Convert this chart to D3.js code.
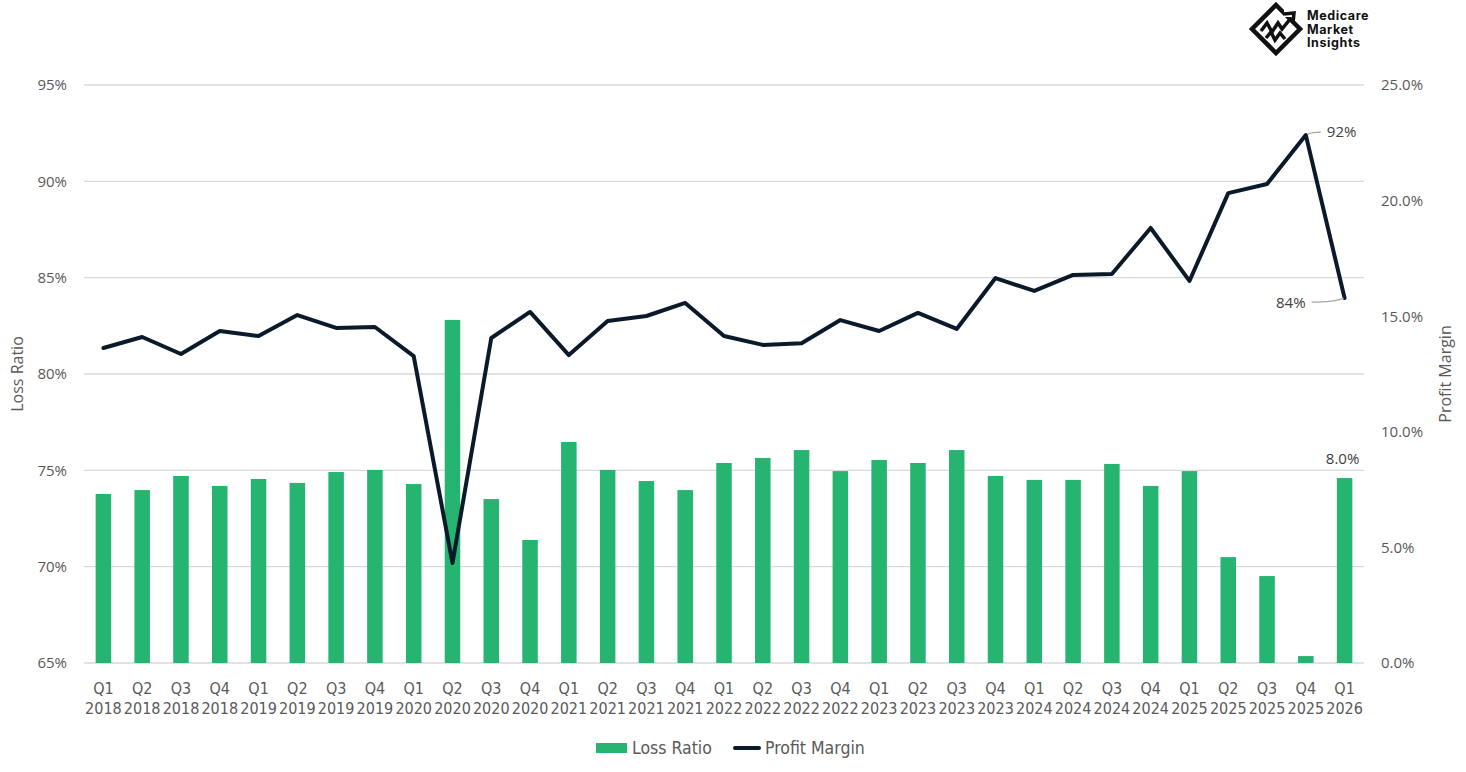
<!DOCTYPE html>
<html><head><meta charset="utf-8">
<script src="https://cdn.jsdelivr.net/npm/d3@7"></script>
<style>
html,body{margin:0;padding:0;background:#fff;}
svg{display:block;}
</style></head>
<body>
<script>
const categories = ["Q1 2018","Q2 2018","Q3 2018","Q4 2018","Q1 2019","Q2 2019","Q3 2019","Q4 2019",
"Q1 2020","Q2 2020","Q3 2020","Q4 2020","Q1 2021","Q2 2021","Q3 2021","Q4 2021",
"Q1 2022","Q2 2022","Q3 2022","Q4 2022","Q1 2023","Q2 2023","Q3 2023","Q4 2023",
"Q1 2024","Q2 2024","Q3 2024","Q4 2024","Q1 2025","Q2 2025","Q3 2025","Q4 2025","Q1 2026"];
// Green bars (legend: "Loss Ratio"), plotted on the right axis (%)
const barValues = [7.31,7.48,8.09,7.66,7.96,7.79,8.26,8.35,7.74,14.84,7.09,5.32,
9.56,8.35,7.87,7.48,8.65,8.87,9.21,8.30,8.78,8.65,9.21,8.09,
7.92,7.92,8.61,7.66,8.30,4.58,3.76,0.30,8.00];
// Dark line (legend: "Profit Margin"), plotted on the left axis (%)
const lineValues = [81.35,81.92,81.04,82.23,81.97,83.06,82.39,82.44,80.93,70.19,81.87,83.22,
80.98,82.75,83.01,83.69,81.97,81.51,81.60,82.80,82.23,83.17,82.34,84.98,
84.31,85.14,85.19,87.58,84.83,89.39,89.86,92.40,83.94];
const leftTicks = [65,70,75,80,85,90,95];
const rightTicks = [0,5,10,15,20,25];
const seriesNames = ["Loss Ratio","Profit Margin"];
const axisTitles = {left:"Loss Ratio", right:"Profit Margin"};

const W = 1466, H = 772;
const svg = d3.select("body").append("svg").attr("width", W).attr("height", H);
const tickFont = "'Open Sans', 'Noto Sans', sans-serif";
const catFont = "'Liberation Sans Narrow', 'DejaVu Sans Condensed', 'Open Sans', sans-serif";
const grey = "#595959";
const barColor = "#25b570";
const lineColor = "#0b1a2a";

const x = d3.scaleBand().domain(categories).range([84, 1364]).paddingInner(0.6).paddingOuter(0.3);
const yL = d3.scaleLinear().domain([65, 95]).range([663, 85]);
const yR = d3.scaleLinear().domain([0, 25]).range([663, 85]);

// gridlines
svg.append("g").selectAll("line").data(leftTicks).join("line")
  .attr("x1", 84).attr("x2", 1364)
  .attr("y1", d => yL(d)).attr("y2", d => yL(d))
  .attr("stroke", "#d9d9d9").attr("stroke-width", 1.4);

// left axis
const axL = svg.append("g").attr("transform", "translate(84,0)")
  .call(d3.axisLeft(yL).tickValues(leftTicks).tickFormat(d => d + "%").tickSize(0).tickPadding(17));
axL.select(".domain").remove();
axL.selectAll("text").attr("font-family", tickFont).attr("font-size", 15).attr("fill", grey);

// right axis
const axR = svg.append("g").attr("transform", "translate(1364,0)")
  .call(d3.axisRight(yR).tickValues(rightTicks).tickFormat(d => d.toFixed(1) + "%").tickSize(0).tickPadding(17));
axR.select(".domain").remove();
axR.selectAll("text").attr("font-family", tickFont).attr("font-size", 15).attr("fill", grey);

// bars
svg.append("g").selectAll("rect").data(categories).join("rect")
  .attr("x", d => x(d)).attr("width", x.bandwidth())
  .attr("y", (d, i) => yR(barValues[i]))
  .attr("height", (d, i) => yR(0) - yR(barValues[i]))
  .attr("fill", barColor);

// x axis labels
const axX = svg.append("g").attr("transform", "translate(0,663)")
  .call(d3.axisBottom(x).tickSize(0).tickPadding(0));
axX.select(".domain").remove();
axX.selectAll(".tick text").each(function(d) {
  const parts = d.split(" ");
  const t = d3.select(this).text(null)
    .attr("font-family", catFont).attr("font-size", 16).attr("fill", grey)
    .attr("text-anchor", "middle").attr("dy", null).attr("y", 0);
  t.append("tspan").attr("x", 0).attr("y", 31).text(parts[0]);
  t.append("tspan").attr("x", 0).attr("y", 51).text(parts[1]);
});

// line
const line = d3.line().x((d, i) => x(categories[i]) + x.bandwidth() / 2).y(d => yL(d));
svg.append("path").datum(lineValues).attr("d", line)
  .attr("fill", "none").attr("stroke", lineColor).attr("stroke-width", 4)
  .attr("stroke-linejoin", "round").attr("stroke-linecap", "round");

// data labels
const cx = i => x(categories[i]) + x.bandwidth() / 2;
const n = categories.length;
const iMax = n - 2, iLast = n - 1;
const lblFont = "'Open Sans', 'Noto Sans', sans-serif";
// 92% label
svg.append("path")
  .attr("d", `M${cx(iMax) + 2},${yL(lineValues[iMax]) - 1} Q${cx(iMax) + 6},${yL(lineValues[iMax]) - 3} ${cx(iMax) + 15},${yL(lineValues[iMax]) - 3}`)
  .attr("fill", "none").attr("stroke", "#a6a6a6").attr("stroke-width", 1.3);
svg.append("text").attr("x", cx(iMax) + 21).attr("y", yL(lineValues[iMax]) + 2)
  .attr("font-family", lblFont).attr("font-size", 15).attr("fill", "#404040")
  .text(Math.round(lineValues[iMax]) + "%");
// 84% label
svg.append("path")
  .attr("d", `M${cx(iLast) - 1},${yL(lineValues[iLast])} Q${cx(iLast) - 10},${yL(lineValues[iLast]) + 4} ${cx(iLast) - 33},${yL(lineValues[iLast]) + 4}`)
  .attr("fill", "none").attr("stroke", "#a6a6a6").attr("stroke-width", 1.3);
svg.append("text").attr("x", cx(iLast) - 39).attr("y", yL(lineValues[iLast]) + 10)
  .attr("text-anchor", "end")
  .attr("font-family", lblFont).attr("font-size", 15).attr("fill", "#404040")
  .text(Math.round(lineValues[iLast]) + "%");
// 8.0% bar label
svg.append("text").attr("x", cx(iLast) - 2).attr("y", yR(barValues[iLast]) - 14)
  .attr("text-anchor", "middle")
  .attr("font-family", lblFont).attr("font-size", 15).attr("fill", "#404040")
  .text(barValues[iLast].toFixed(1) + "%");

// axis titles
svg.append("text").attr("transform", "translate(23,374) rotate(-90)")
  .attr("text-anchor", "middle").attr("font-family", tickFont).attr("font-size", 16).attr("fill", grey)
  .text(axisTitles.left);
svg.append("text").attr("transform", "translate(1451,374) rotate(-90)")
  .attr("text-anchor", "middle").attr("font-family", tickFont).attr("font-size", 16).attr("fill", grey)
  .text(axisTitles.right);

// legend
const lg = svg.append("g");
lg.append("rect").attr("x", 596).attr("y", 743).attr("width", 31).attr("height", 10).attr("fill", barColor);
lg.append("text").attr("x", 632).attr("y", 754).attr("font-family", catFont).attr("font-size", 17.5).attr("fill", grey).text(seriesNames[0]);
lg.append("line").attr("x1", 735).attr("x2", 759).attr("y1", 748).attr("y2", 748)
  .attr("stroke", lineColor).attr("stroke-width", 4).attr("stroke-linecap", "round");
lg.append("text").attr("x", 765).attr("y", 754).attr("font-family", catFont).attr("font-size", 17.5).attr("fill", grey).text(seriesNames[1]);

// logo
const logo = svg.append("g").attr("transform", "translate(1276,29)");
logo.append("path").attr("d", "M0,-24 L24,0 L0,24 L-24,0 Z")
  .attr("fill", "none").attr("stroke", "#111").attr("stroke-width", 4.5).attr("stroke-linejoin", "miter");
logo.append("rect").attr("x", 8).attr("y", -22).attr("width", 14).attr("height", 10).attr("fill", "#fff");
logo.append("path").attr("d", "M-15,2 L-9,-6 L-4,3 L2,-6 L6,0 L15,-11")
  .attr("fill", "none").attr("stroke", "#111").attr("stroke-width", 3.5).attr("stroke-linejoin", "miter");
logo.append("path").attr("d", "M8,-15 L18,-16 L17,-6")
  .attr("fill", "none").attr("stroke", "#111").attr("stroke-width", 3.5);
logo.append("path").attr("d", "M-10,9 L-5,3 L-1,11 L4,4 L9,10")
  .attr("fill", "none").attr("stroke", "#111").attr("stroke-width", 3.5).attr("stroke-linejoin", "miter");
["Medicare","Market","Insights"].forEach((s, i) =>
  svg.append("text").attr("x", 1307).attr("y", 20 + i * 13.5)
    .attr("font-family", "Inter, 'Open Sans', sans-serif").attr("font-weight", 700)
    .attr("font-size", 12.5).attr("letter-spacing", 0.6).attr("fill", "#111").text(s));
</script>
</body></html>
